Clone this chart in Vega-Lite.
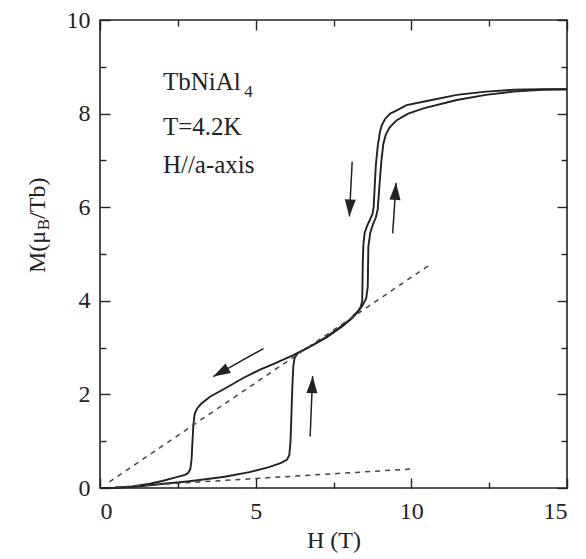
{
  "$schema": "https://vega.github.io/schema/vega-lite/v6.json",
  "width": 467,
  "height": 468,
  "autosize": {"type": "none"},
  "padding": {"left": 100, "top": 20, "right": 19, "bottom": 71},
  "background": "white",
  "config": {
    "view": {"stroke": "#222", "strokeWidth": 1.6},
    "axis": {"domain": false, "grid": false, "tickColor": "#222", "tickWidth": 1.4, "labelFont": "Liberation Serif", "labelFontSize": 24, "labelColor": "#222", "titleFont": "Liberation Serif", "titleFontSize": 24, "titleFontWeight": "normal", "titleColor": "#222"},
    "text": {"font": "Liberation Serif", "fill": "#222"}
  },
  "datasets": {
    "curves": [
      {"b":"up","i":1,"H":0,"M":0},{"b":"up","i":2,"H":0.5,"M":0.005},{"b":"up","i":3,"H":1.0,"M":0.02},{"b":"up","i":4,"H":1.6,"M":0.06},{"b":"up","i":5,"H":2.2,"M":0.1},{"b":"up","i":6,"H":2.8,"M":0.14},{"b":"up","i":7,"H":3.2,"M":0.17},{"b":"up","i":8,"H":4.0,"M":0.24},{"b":"up","i":9,"H":4.8,"M":0.34},{"b":"up","i":10,"H":5.4,"M":0.44},{"b":"up","i":11,"H":5.8,"M":0.53},{"b":"up","i":12,"H":6.0,"M":0.6},{"b":"up","i":13,"H":6.08,"M":0.7},{"b":"up","i":14,"H":6.12,"M":1.0},{"b":"up","i":15,"H":6.15,"M":1.6},{"b":"up","i":16,"H":6.18,"M":2.2},{"b":"up","i":17,"H":6.21,"M":2.6},{"b":"up","i":18,"H":6.25,"M":2.78},{"b":"up","i":19,"H":6.35,"M":2.88},{"b":"up","i":20,"H":6.8,"M":3.04},{"b":"up","i":21,"H":7.3,"M":3.23},{"b":"up","i":22,"H":7.8,"M":3.46},{"b":"up","i":23,"H":8.1,"M":3.63},{"b":"up","i":24,"H":8.3,"M":3.78},{"b":"up","i":25,"H":8.45,"M":3.92},{"b":"up","i":26,"H":8.55,"M":4.05},{"b":"up","i":27,"H":8.6,"M":4.3},{"b":"up","i":28,"H":8.62,"M":5.16},{"b":"up","i":29,"H":8.68,"M":5.45},{"b":"up","i":30,"H":8.76,"M":5.62},{"b":"up","i":31,"H":8.86,"M":5.78},{"b":"up","i":32,"H":8.92,"M":5.95},{"b":"up","i":33,"H":8.98,"M":6.5},{"b":"up","i":34,"H":9.04,"M":7.0},{"b":"up","i":35,"H":9.1,"M":7.35},{"b":"up","i":36,"H":9.18,"M":7.55},{"b":"up","i":37,"H":9.3,"M":7.7},{"b":"up","i":38,"H":9.53,"M":7.86},{"b":"up","i":39,"H":9.9,"M":8.0},{"b":"up","i":40,"H":10.39,"M":8.11},{"b":"up","i":41,"H":11.46,"M":8.29},{"b":"up","i":42,"H":12.4,"M":8.4},{"b":"up","i":43,"H":13.28,"M":8.47},{"b":"up","i":44,"H":14.2,"M":8.51},{"b":"up","i":45,"H":15,"M":8.52},
      {"b":"down","i":1,"H":15,"M":8.52},{"b":"down","i":2,"H":14.2,"M":8.52},{"b":"down","i":3,"H":13.28,"M":8.51},{"b":"down","i":4,"H":12.4,"M":8.47},{"b":"down","i":5,"H":11.46,"M":8.4},{"b":"down","i":6,"H":10.5,"M":8.27},{"b":"down","i":7,"H":9.85,"M":8.18},{"b":"down","i":8,"H":9.5,"M":8.06},{"b":"down","i":9,"H":9.32,"M":8.0},{"b":"down","i":10,"H":9.15,"M":7.88},{"b":"down","i":11,"H":9.05,"M":7.75},{"b":"down","i":12,"H":8.99,"M":7.6},{"b":"down","i":13,"H":8.92,"M":7.3},{"b":"down","i":14,"H":8.86,"M":6.9},{"b":"down","i":15,"H":8.82,"M":6.4},{"b":"down","i":16,"H":8.79,"M":6.0},{"b":"down","i":17,"H":8.75,"M":5.85},{"b":"down","i":18,"H":8.66,"M":5.72},{"b":"down","i":19,"H":8.58,"M":5.6},{"b":"down","i":20,"H":8.5,"M":5.45},{"b":"down","i":21,"H":8.46,"M":5.2},{"b":"down","i":22,"H":8.44,"M":4.8},{"b":"down","i":23,"H":8.43,"M":4.3},{"b":"down","i":24,"H":8.42,"M":4.0},{"b":"down","i":25,"H":8.38,"M":3.88},{"b":"down","i":26,"H":8.3,"M":3.79},{"b":"down","i":27,"H":8.03,"M":3.6},{"b":"down","i":28,"H":7.6,"M":3.38},{"b":"down","i":29,"H":7.28,"M":3.23},{"b":"down","i":30,"H":6.8,"M":3.04},{"b":"down","i":31,"H":6.21,"M":2.84},{"b":"down","i":32,"H":5.6,"M":2.66},{"b":"down","i":33,"H":5.14,"M":2.53},{"b":"down","i":34,"H":4.6,"M":2.35},{"b":"down","i":35,"H":4.0,"M":2.12},{"b":"down","i":36,"H":3.53,"M":1.95},{"b":"down","i":37,"H":3.25,"M":1.8},{"b":"down","i":38,"H":3.12,"M":1.7},{"b":"down","i":39,"H":3.04,"M":1.58},{"b":"down","i":40,"H":3.0,"M":1.35},{"b":"down","i":41,"H":2.97,"M":1.0},{"b":"down","i":42,"H":2.94,"M":0.6},{"b":"down","i":43,"H":2.9,"M":0.4},{"b":"down","i":44,"H":2.83,"M":0.32},{"b":"down","i":45,"H":2.73,"M":0.28},{"b":"down","i":46,"H":2.4,"M":0.22},{"b":"down","i":47,"H":2.0,"M":0.15},{"b":"down","i":48,"H":1.6,"M":0.09},{"b":"down","i":49,"H":1.0,"M":0.03},{"b":"down","i":50,"H":0.5,"M":0.005},{"b":"down","i":51,"H":0,"M":0}
    ],
    "fits": [
      {"f":"high","H":0.3,"M":0.13},{"f":"high","H":10.55,"M":4.75},
      {"f":"low","H":0.5,"M":0.02},{"f":"low","H":10.1,"M":0.41}
    ],
    "arrows": [
      {"id":"a","H1":8.1,"M1":6.97,"H2":8.01,"M2":5.8},
      {"id":"b","H1":9.4,"M1":5.44,"H2":9.51,"M2":6.52},
      {"id":"c","H1":6.75,"M1":1.1,"H2":6.83,"M2":2.39},
      {"id":"d","H1":5.25,"M1":2.98,"H2":3.64,"M2":2.38}
    ],
    "notes": [
      {"t":"TbNiAl","H":2.02,"M":8.5},
      {"t":"T=4.2K","H":2.02,"M":7.54},
      {"t":"H//a-axis","H":2.02,"M":6.73}
    ],
    "one": [{}]
  },
  "layer": [
    {
      "data": {"name": "curves"},
      "mark": {"type": "line", "stroke": "#222", "strokeWidth": 1.9},
      "encoding": {
        "x": {"field": "H", "type": "quantitative", "scale": {"domain": [0, 15], "nice": false},
              "axis": {"orient": "bottom", "values": [0, 5, 10, 15], "tickSize": -10, "labelPadding": 21, "title": "H (T)", "titleY": 59, "titleBaseline": "alphabetic"}},
        "y": {"field": "M", "type": "quantitative", "scale": {"domain": [0, 10], "nice": false},
              "axis": {"orient": "left", "values": [0, 2, 4, 6, 8, 10], "tickSize": -10, "labelPadding": 20, "title": null}},
        "detail": {"field": "b"},
        "order": {"field": "i"}
      }
    },
    {
      "data": {"name": "fits"},
      "mark": {"type": "line", "stroke": "#444", "strokeWidth": 1.5, "strokeDash": [5, 5]},
      "encoding": {
        "x": {"field": "H", "type": "quantitative", "scale": {"domain": [0, 15], "nice": false},
              "axis": {"orient": "bottom", "values": [2.5, 7.5, 12.5], "tickSize": -6, "labels": false, "title": null}},
        "y": {"field": "M", "type": "quantitative", "scale": {"domain": [0, 10], "nice": false},
              "axis": {"orient": "left", "values": [1, 3, 5, 7, 9], "tickSize": -6, "labels": false, "title": null}},
        "detail": {"field": "f"}
      }
    },
    {
      "data": {"name": "arrows"},
      "mark": {"type": "rule", "stroke": "#222", "strokeWidth": 1.5},
      "encoding": {
        "x": {"field": "H1", "type": "quantitative", "scale": {"domain": [0, 15], "nice": false},
              "axis": {"orient": "top", "values": [0, 5, 10, 15], "tickSize": -10, "labels": false, "title": null}},
        "y": {"field": "M1", "type": "quantitative", "scale": {"domain": [0, 10], "nice": false},
              "axis": {"orient": "right", "values": [0, 2, 4, 6, 8, 10], "tickSize": -10, "labels": false, "title": null}},
        "x2": {"field": "H2"},
        "y2": {"field": "M2"}
      }
    },
    {
      "data": {"name": "arrows"},
      "transform": [{"filter": "datum.id == 'a'"}],
      "mark": {"type": "point", "shape": "M0,0L-0.65,2L0.65,2Z", "size": 289, "filled": true, "fill": "#222", "strokeWidth": 0, "opacity": 1, "angle": 183},
      "encoding": {
        "x": {"field": "H2", "type": "quantitative", "scale": {"domain": [0, 15], "nice": false},
              "axis": {"orient": "top", "values": [2.5, 7.5, 12.5], "tickSize": -6, "labels": false, "title": null}},
        "y": {"field": "M2", "type": "quantitative", "scale": {"domain": [0, 10], "nice": false},
              "axis": {"orient": "right", "values": [1, 3, 5, 7, 9], "tickSize": -6, "labels": false, "title": null}}
      }
    },
    {
      "data": {"name": "arrows"},
      "transform": [{"filter": "datum.id == 'b'"}],
      "mark": {"type": "point", "shape": "M0,0L-0.65,2L0.65,2Z", "size": 289, "filled": true, "fill": "#222", "strokeWidth": 0, "opacity": 1, "angle": 3.7},
      "encoding": {
        "x": {"field": "H2", "type": "quantitative", "scale": {"domain": [0, 15], "nice": false}, "axis": null},
        "y": {"field": "M2", "type": "quantitative", "scale": {"domain": [0, 10], "nice": false}, "axis": null}
      }
    },
    {
      "data": {"name": "arrows"},
      "transform": [{"filter": "datum.id == 'c'"}],
      "mark": {"type": "point", "shape": "M0,0L-0.65,2L0.65,2Z", "size": 289, "filled": true, "fill": "#222", "strokeWidth": 0, "opacity": 1, "angle": 2.5},
      "encoding": {
        "x": {"field": "H2", "type": "quantitative", "scale": {"domain": [0, 15], "nice": false}, "axis": null},
        "y": {"field": "M2", "type": "quantitative", "scale": {"domain": [0, 10], "nice": false}, "axis": null}
      }
    },
    {
      "data": {"name": "arrows"},
      "transform": [{"filter": "datum.id == 'd'"}],
      "mark": {"type": "point", "shape": "M0,0L-0.65,2L0.65,2Z", "size": 289, "filled": true, "fill": "#222", "strokeWidth": 0, "opacity": 1, "angle": 240.7},
      "encoding": {
        "x": {"field": "H2", "type": "quantitative", "scale": {"domain": [0, 15], "nice": false}, "axis": null},
        "y": {"field": "M2", "type": "quantitative", "scale": {"domain": [0, 10], "nice": false}, "axis": null}
      }
    },
    {
      "data": {"name": "notes"},
      "mark": {"type": "text", "fontSize": 25, "align": "left", "baseline": "alphabetic"},
      "encoding": {
        "x": {"field": "H", "type": "quantitative", "scale": {"domain": [0, 15], "nice": false}, "axis": null},
        "y": {"field": "M", "type": "quantitative", "scale": {"domain": [0, 10], "nice": false}, "axis": null},
        "text": {"field": "t"}
      }
    },
    {
      "data": {"name": "one"},
      "mark": {"type": "text", "fontSize": 17, "align": "left", "baseline": "alphabetic"},
      "encoding": {
        "x": {"datum": 4.63, "type": "quantitative", "scale": {"domain": [0, 15], "nice": false}, "axis": null},
        "y": {"datum": 8.35, "type": "quantitative", "scale": {"domain": [0, 10], "nice": false}, "axis": null},
        "text": {"value": "4"}
      }
    },
    {
      "data": {"name": "one"},
      "mark": {"type": "text", "fontSize": 24, "align": "left", "baseline": "alphabetic", "angle": 270},
      "encoding": {
        "x": {"datum": -1.767, "type": "quantitative", "scale": {"domain": [0, 15], "nice": false}, "axis": null},
        "y": {"datum": 4.594, "type": "quantitative", "scale": {"domain": [0, 10], "nice": false}, "axis": null},
        "text": {"value": "M(μ"}
      }
    },
    {
      "data": {"name": "one"},
      "mark": {"type": "text", "fontSize": 17, "align": "left", "baseline": "alphabetic", "angle": 270},
      "encoding": {
        "x": {"datum": -1.64, "type": "quantitative", "scale": {"domain": [0, 15], "nice": false}, "axis": null},
        "y": {"datum": 5.51, "type": "quantitative", "scale": {"domain": [0, 10], "nice": false}, "axis": null},
        "text": {"value": "B"}
      }
    },
    {
      "data": {"name": "one"},
      "mark": {"type": "text", "fontSize": 24, "align": "left", "baseline": "alphabetic", "angle": 270},
      "encoding": {
        "x": {"datum": -1.767, "type": "quantitative", "scale": {"domain": [0, 15], "nice": false}, "axis": null},
        "y": {"datum": 5.75, "type": "quantitative", "scale": {"domain": [0, 10], "nice": false}, "axis": null},
        "text": {"value": "/Tb)"}
      }
    }
  ],
  "resolve": {"axis": {"x": "independent", "y": "independent"}}
}
